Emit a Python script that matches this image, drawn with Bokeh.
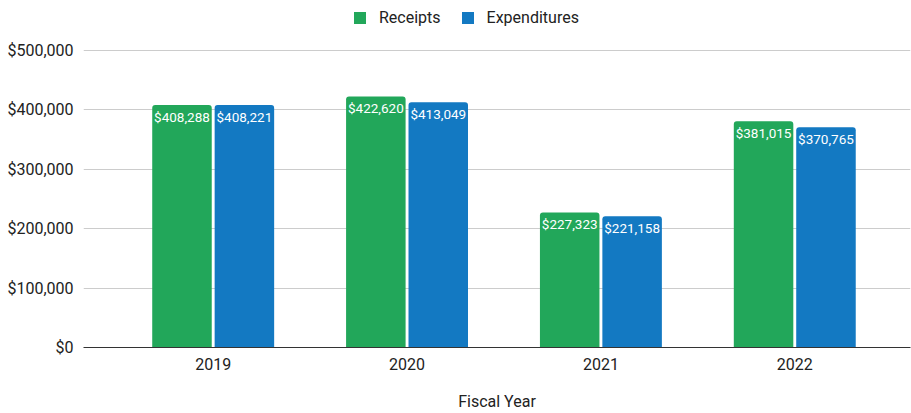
from bokeh.plotting import figure
from bokeh.models import ColumnDataSource, FixedTicker, Legend, LegendItem, NumeralTickFormatter
from bokeh.transform import dodge
from bokeh.core.properties import value
from bokeh.embed import file_html
from bokeh.resources import INLINE

years = ["2019", "2020", "2021", "2022"]
receipts = [408288, 422620, 227323, 381015]
expenditures = [408221, 413049, 221158, 370765]
y_ticks = [0, 100000, 200000, 300000, 400000, 500000]

GREEN = "#22a75a"
BLUE = "#1379c2"
FONT = "Roboto"

xs = list(range(len(years)))
src = ColumnDataSource(dict(
    x=xs,
    receipts=receipts,
    expenditures=expenditures,
    rlab=[f"${v:,}" for v in receipts],
    elab=[f"${v:,}" for v in expenditures],
))

# frame spans the full top of the figure so the legend can sit inside it
p = figure(width=911, height=413, output_backend="svg", toolbar_location=None,
           x_range=(-0.669, 3.597), y_range=(0, 584175),
           min_border_left=83, min_border_right=1, min_border_top=0, min_border_bottom=66)

off = 0.161
bw = 0.307
r1 = p.vbar(x=dodge("x", -off, range=p.x_range), top="receipts", width=bw, source=src,
            fill_color=GREEN, line_color=None, border_radius=(3, 3, 0, 0))
r2 = p.vbar(x=dodge("x", off, range=p.x_range), top="expenditures", width=bw, source=src,
            fill_color=BLUE, line_color=None, border_radius=(3, 3, 0, 0))

p.text(x=dodge("x", -off, range=p.x_range), y="receipts", text="rlab", source=src,
       text_align="center", text_baseline="top", y_offset=4,
       text_font=value(FONT), text_font_size="13.5px", text_color="white")
p.text(x=dodge("x", off, range=p.x_range), y="expenditures", text="elab", source=src,
       text_align="center", text_baseline="top", y_offset=4,
       text_font=value(FONT), text_font_size="13.5px", text_color="white")

p.outline_line_color = None
p.xgrid.grid_line_color = None
p.ygrid.grid_line_color = "#cccccc"
p.ygrid.ticker = FixedTicker(ticks=y_ticks)

p.xaxis.ticker = FixedTicker(ticks=xs)
p.xaxis.major_label_overrides = {i: y for i, y in enumerate(years)}
p.xaxis.axis_label = "Fiscal Year"
p.xaxis.axis_line_color = "#333333"
p.xaxis.major_tick_line_color = None
p.xaxis.minor_tick_line_color = None
p.xaxis.major_tick_out = 0
p.xaxis.major_tick_in = 0
p.xaxis.major_label_standoff = 10
p.xaxis.axis_label_standoff = 19
p.xaxis.major_label_text_line_height = 1.0
p.xaxis.axis_label_text_line_height = 1.0

p.yaxis.ticker = FixedTicker(ticks=y_ticks)
p.yaxis.formatter = NumeralTickFormatter(format="$0,0")
p.yaxis.axis_line_color = None
p.yaxis.major_tick_line_color = None
p.yaxis.minor_tick_line_color = None
p.yaxis.major_tick_out = 0
p.yaxis.major_tick_in = 0
p.yaxis.major_label_standoff = 10

for ax in (p.xaxis[0], p.yaxis[0]):
    ax.major_label_text_font = FONT
    ax.major_label_text_font_size = "16px"
    ax.major_label_text_color = "#222222"
    ax.axis_label_text_font = FONT
    ax.axis_label_text_font_size = "16px"
    ax.axis_label_text_font_style = "normal"
    ax.axis_label_text_color = "#222222"

legend = Legend(items=[LegendItem(label="Receipts", renderers=[r1]),
                       LegendItem(label="Expenditures", renderers=[r2])],
                orientation="horizontal", location=(269, 320),
                label_text_font=FONT, label_text_font_size="16px", label_text_color="#222222",
                glyph_width=15, glyph_height=15, spacing=19, label_standoff=12,
                border_line_color=None, background_fill_alpha=0, padding=0, margin=0)
p.add_layout(legend, "center")

open("out.html", "w").write(file_html(p, INLINE))
